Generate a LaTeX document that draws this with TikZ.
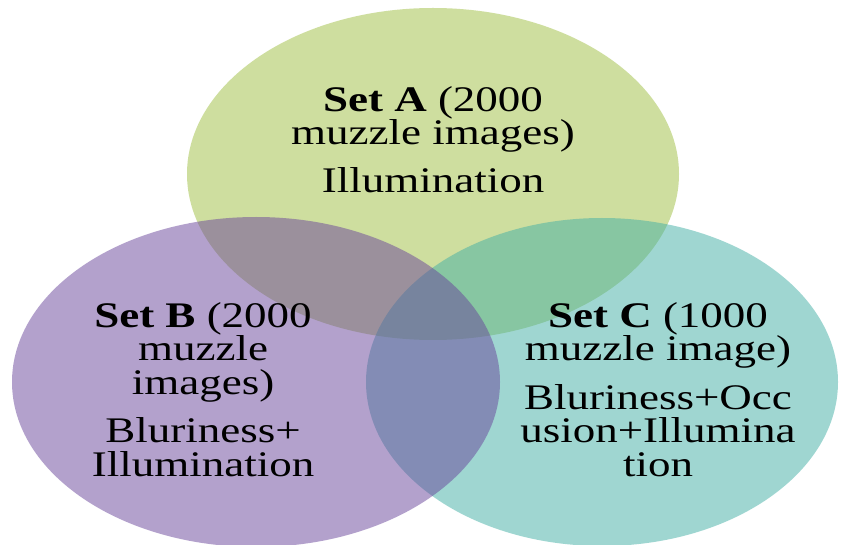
\documentclass[tikz,border=0pt]{standalone}
\usepackage{fontspec}
\setmainfont{Liberation Serif}[FakeStretch=1.25]
\definecolor{setA}{RGB}{159,191,65}
\definecolor{setB}{RGB}{105,68,155}
\definecolor{setC}{RGB}{65,175,165}
\tikzset{
  venn/.style={fill opacity=0.5},
  settext/.style={align=center, inner sep=0pt, anchor=north, text=black,
    font=\fontsize{36}{33.5}\selectfont}
}
\begin{document}
\begin{tikzpicture}[x=1pt,y=-1pt]
\useasboundingbox (0,0) rectangle (843,545);
\fill[white] (0,0) rectangle (843,545);
\fill[venn, setA] (433,174) ellipse [x radius=246pt, y radius=166pt];
\fill[venn, setC] (602,382) ellipse [x radius=236pt, y radius=164pt];
\fill[venn, setB] (256,382) ellipse [x radius=244pt, y radius=165pt];
\node[settext] (ta) at (433,86) {\textbf{Set A} (2000\\muzzle images)\\[14pt]Illumination};
\node[settext] (tb) at (203,302) {\textbf{Set B} (2000\\muzzle\\images)\\[15pt]Bluriness+\\Illumination};
\node[settext] (tc) at (658,302) {\textbf{Set C} (1000\\muzzle image)\\[15pt]Bluriness+Occ\\usion+Illumina\\tion};
\end{tikzpicture}
\end{document}
